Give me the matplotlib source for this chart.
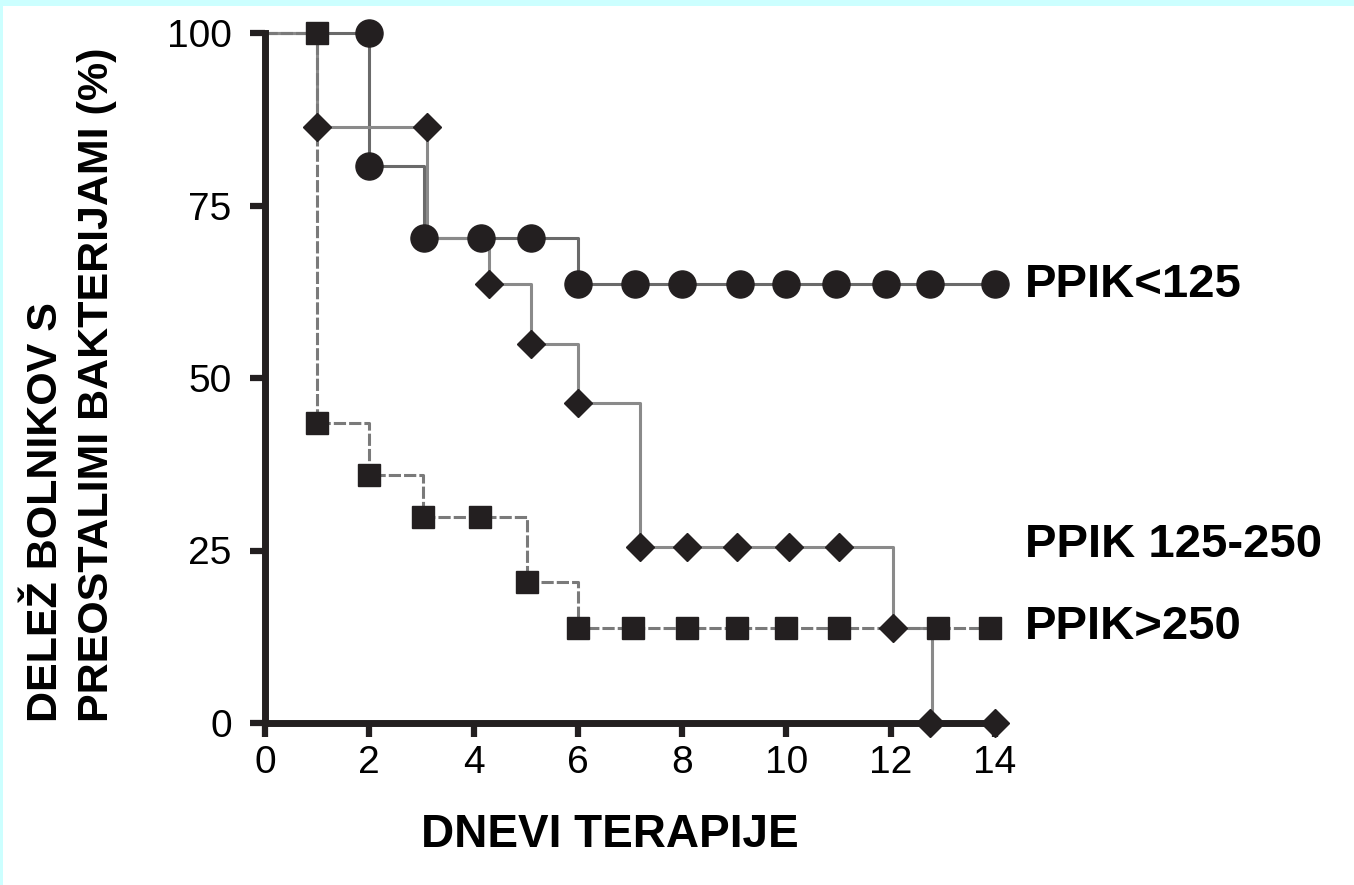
import matplotlib.pyplot as plt
from matplotlib.patches import Rectangle

# --- data (days, % patients with remaining bacteria) ---
low_t = [0, 2, 3.05, 6, 14]
low_s = [100, 80.7, 70.3, 63.6, 63.6]
low_mx = [2, 2, 3.05, 4.15, 5.1, 6, 7.1, 8.0, 9.1, 10.0, 10.95, 11.9, 12.75, 14]
low_my = [100, 80.7, 70.3, 70.3, 70.3, 63.6, 63.6, 63.6, 63.6, 63.6, 63.6, 63.6, 63.6, 63.6]

mid_t = [0, 1, 3.1, 4.3, 5.1, 6, 7.2, 12.05, 12.8, 14]
mid_s = [100, 86.4, 70.3, 63.6, 55.0, 46.4, 25.5, 13.7, 0, 0]
mid_mx = [1, 3.1, 4.3, 5.1, 6, 7.2, 8.1, 9.05, 10.05, 11.0, 12.05, 12.75, 14]
mid_my = [86.4, 86.4, 63.6, 55.0, 46.4, 25.5, 25.5, 25.5, 25.5, 25.5, 13.7, 0, 0]

high_t = [0, 1, 2, 3.03, 5.02, 6, 14]
high_s = [100, 43.5, 36.0, 29.9, 20.5, 13.7, 13.7]
high_mx = [1, 1, 2, 3.03, 4.12, 5.02, 6, 7.05, 8.1, 9.05, 10.0, 11.0, 12.9, 13.9]
high_my = [100, 43.5, 36.0, 29.9, 29.9, 20.5, 13.7, 13.7, 13.7, 13.7, 13.7, 13.7, 13.7, 13.7]

labels = ["PPIK<125", "PPIK 125-250", "PPIK>250"]
label_y = [63.5, 25.8, 13.9]

x_ticks = [0, 2, 4, 6, 8, 10, 12, 14]
y_ticks = [0, 25, 50, 75, 100]

ink = "#231f20"
font = "Liberation Sans"
W, H = 1354, 885

fig = plt.figure(figsize=(13.54, 8.85), dpi=100, facecolor="white")
# thin cyan frame on top and left edge
fig.patches.append(Rectangle((0, 1 - 6 / H), 1, 6 / H, transform=fig.transFigure,
                             facecolor="#ccffff", edgecolor="none"))
fig.patches.append(Rectangle((0, 0), 3 / W, 1, transform=fig.transFigure,
                             facecolor="#ccffff", edgecolor="none"))

ax = fig.add_axes([265 / W, 1 - 723 / H, 730 / W, 690 / H])
ax.set_facecolor("none")

ax.step(low_t, low_s, where="post", color="#6a6a6a", lw=2.2, clip_on=False, zorder=2)
ax.step(mid_t, mid_s, where="post", color="#8a8a8a", lw=2.2, clip_on=False, zorder=2)
ax.step(high_t, high_s, where="post", color="#7a7a7a", lw=2.2, ls=(0, (4, 1)),
        clip_on=False, zorder=2)

ax.plot(high_mx, high_my, ls="none", marker="s", ms=15.5, color=ink, clip_on=False, zorder=4)
ax.plot(mid_mx, mid_my, ls="none", marker="D", ms=14, color=ink, clip_on=False, zorder=4)
ax.plot(low_mx, low_my, ls="none", marker="o", ms=19.5, color=ink, clip_on=False, zorder=4)

for lab, yv in zip(labels, label_y):
    ax.text(14.58, yv, lab, fontsize=34, fontweight="bold", family=font,
            va="center", ha="left", clip_on=False)

ax.set_xlim(0, 14)
ax.set_ylim(0, 100)
ax.set_xticks(x_ticks)
ax.set_yticks(y_ticks)
ax.tick_params(axis="x", direction="out", length=10, width=4.5, color=ink, pad=6)
ax.tick_params(axis="y", direction="out", length=11, width=4.5, color=ink, pad=13)
for t in ax.get_xticklabels() + ax.get_yticklabels():
    t.set_family(font)
    t.set_fontsize(28)
for side in ["top", "right"]:
    ax.spines[side].set_visible(False)
for side in ["left", "bottom"]:
    ax.spines[side].set_linewidth(5)
    ax.spines[side].set_color(ink)

fig.text(610 / W, 1 - 835 / H, "DNEVI TERAPIJE", fontsize=33, fontweight="bold",
         family=font, ha="center", va="center")
fig.text(46 / W, 1 - 722 / H, "DELEŽ BOLNIKOV S", fontsize=31, fontweight="bold",
         family=font, rotation=90, ha="center", va="bottom")
fig.text(97 / W, 1 - 722 / H, "PREOSTALIMI BAKTERIJAMI (%)", fontsize=31,
         fontweight="bold", family=font, rotation=90, ha="center", va="bottom")

fig.savefig("out.png", dpi=100, facecolor=fig.get_facecolor())
